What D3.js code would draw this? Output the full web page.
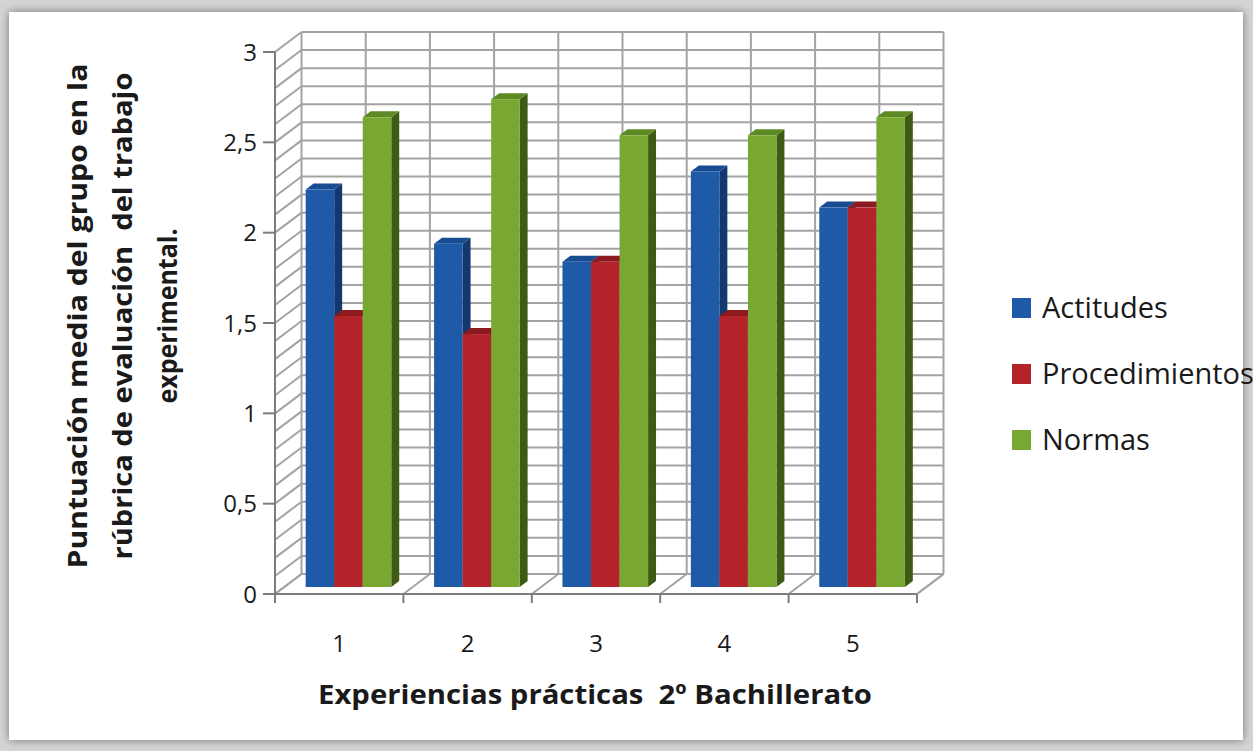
<!DOCTYPE html>
<html>
<head>
<meta charset="utf-8">
<script src="https://cdn.jsdelivr.net/npm/d3@7"></script>
<style>
  html, body { margin: 0; padding: 0; background: #cfcfcf; }
  svg { display: block; }
  text { font-family: "Open Sans", "Noto Sans", sans-serif; fill: #1a1a1a; white-space: pre; }
</style>
</head>
<body>
<svg id="chart" width="1253" height="751"></svg>
<script>
// Experiences (categories) and the three evaluated dimensions
const categories = ["1", "2", "3", "4", "5"];
const seriesNames = ["Actitudes", "Procedimientos", "Normas"];
const actitudes = [2.2, 1.9, 1.8, 2.3, 2.1];
const procedimientos = [1.5, 1.4, 1.8, 1.5, 2.1];
const normas = [2.6, 2.7, 2.5, 2.5, 2.6];
const yTicks = [0, 0.5, 1, 1.5, 2, 2.5, 3];
const yTitleLines = ["Puntuación media del grupo en la", "rúbrica de evaluación  del trabajo", "experimental."];
const xTitle = "Experiencias prácticas  2º Bachillerato";

const seriesValues = [actitudes, procedimientos, normas];
const palette = {
  front: ["#1f5aa8", "#b2232a", "#78a832"],
  side:  ["#12386f", "#6e1216", "#3e5a14"],
  top:   ["#174c92", "#8c1a1e", "#5e8a24"]
};

const svg = d3.select("#chart");

// Page panel with soft shadow
const defs = svg.append("defs");
const f = defs.append("filter").attr("id", "shadow").attr("x", "-5%").attr("y", "-5%").attr("width", "110%").attr("height", "110%");
f.append("feGaussianBlur").attr("in", "SourceAlpha").attr("stdDeviation", 5).attr("result", "b");
f.append("feFlood").attr("flood-color", "#000").attr("flood-opacity", 0.45);
f.append("feComposite").attr("in2", "b").attr("operator", "in");
const m = f.append("feMerge");
m.append("feMergeNode");
m.append("feMergeNode").attr("in", "SourceGraphic");

svg.append("rect").attr("x", 0).attr("y", 0).attr("width", 1253).attr("height", 751).attr("fill", "#d4d4d4");
svg.append("rect").attr("x", 9).attr("y", 12).attr("width", 1234).attr("height", 728)
  .attr("fill", "#ffffff").attr("filter", "url(#shadow)");

// 3D frame geometry: front plane and depth offset
const x0 = 275, x1 = 917;
const y = d3.scaleLinear().domain([0, 3]).range([594, 52]);
const depthX = 26.5, depthY = -20;
const px = (xv, z) => xv + z * depthX;
const py = (yv, z) => yv + z * depthY;

const xCat = d3.scaleBand().domain(categories).range([x0, x1]).padding(0);
const xSer = d3.scaleBand().domain(seriesNames).range([0, xCat.bandwidth()]).paddingInner(0).paddingOuter(0.75);

const gridColor = "#a3a3a3";
const grid = svg.append("g").attr("fill", "none").attr("stroke", gridColor).attr("stroke-width", 2);

// back wall
const minorTicks = d3.range(0, 31).map(i => i / 10);
grid.selectAll("line.h").data(minorTicks).join("line")
  .attr("x1", px(x0, 1)).attr("x2", px(x1, 1))
  .attr("y1", d => py(y(d), 1)).attr("y2", d => py(y(d), 1));
const halfCats = d3.range(0, 11).map(i => x0 + i * xCat.bandwidth() / 2);
grid.selectAll("line.v").data(halfCats).join("line")
  .attr("x1", d => px(d, 1)).attr("x2", d => px(d, 1))
  .attr("y1", py(y(0), 1)).attr("y2", py(y(3), 1));

// side wall hatching
grid.selectAll("line.s").data(minorTicks).join("line")
  .attr("x1", px(x0, 0)).attr("y1", d => y(d))
  .attr("x2", px(x0, 1)).attr("y2", d => py(y(d), 1));

// floor lines at category boundaries
const catEdges = d3.range(0, 6).map(i => x0 + i * xCat.bandwidth());
grid.selectAll("line.f").data(catEdges).join("line")
  .attr("x1", d => px(d, 0)).attr("y1", y(0))
  .attr("x2", d => px(d, 1)).attr("y2", py(y(0), 1));

// bars: front face z from zF to zB
const zF = 0.35, zB = 0.65;
const bars = svg.append("g");
categories.forEach((c, ci) => {
  seriesNames.forEach((s, si) => {
    const v = seriesValues[si][ci];
    const xl = xCat(c) + xSer(s), xr = xl + xSer.bandwidth();
    const yt = y(v), yb = y(0);
    const poly = pts => pts.map(p => p.join(",")).join(" ");
    // right side face
    bars.append("polygon").attr("fill", palette.side[si]).attr("points", poly([
      [px(xr, zF), py(yb, zF)], [px(xr, zB), py(yb, zB)], [px(xr, zB), py(yt, zB)], [px(xr, zF), py(yt, zF)]
    ]));
    // top face
    bars.append("polygon").attr("fill", palette.top[si]).attr("points", poly([
      [px(xl, zF), py(yt, zF)], [px(xr, zF), py(yt, zF)], [px(xr, zB), py(yt, zB)], [px(xl, zB), py(yt, zB)]
    ]));
    // front face
    bars.append("rect").attr("fill", palette.front[si])
      .attr("x", px(xl, zF)).attr("y", py(yt, zF))
      .attr("width", xr - xl).attr("height", yb - yt);
  });
});

// front axes
const axisColor = "#7d7d7d";
const ax = svg.append("g").attr("stroke", axisColor).attr("stroke-width", 2);
ax.append("line").attr("x1", x0).attr("x2", x0).attr("y1", y(3)).attr("y2", y(0) + 9);
ax.append("line").attr("x1", x0 - 12).attr("x2", x1).attr("y1", y(0)).attr("y2", y(0));
ax.selectAll("line.yt").data(yTicks).join("line")
  .attr("x1", x0 - 12).attr("x2", x0).attr("y1", d => y(d)).attr("y2", d => y(d));
ax.selectAll("line.xt").data(catEdges).join("line")
  .attr("x1", d => d).attr("x2", d => d).attr("y1", y(0)).attr("y2", y(0) + 9);
// floor right edge
ax.append("line").attr("x1", px(x1, 0)).attr("y1", y(0)).attr("x2", px(x1, 1)).attr("y2", py(y(0), 1)).attr("stroke", gridColor);

// tick labels
const fmt = d => String(d).replace(".", ",");
svg.append("g").selectAll("text").data(yTicks).join("text")
  .attr("x", 257).attr("y", d => y(d)).attr("dy", "0.36em")
  .attr("text-anchor", "end").attr("font-size", 24).text(fmt);
svg.append("g").selectAll("text").data(categories).join("text")
  .attr("x", d => xCat(d) + xCat.bandwidth() / 2).attr("y", 652)
  .attr("text-anchor", "middle").attr("font-size", 24).text(d => d);

// axis titles
svg.append("text").attr("x", 595).attr("y", 704).attr("text-anchor", "middle")
  .attr("font-size", 27).attr("font-weight", "bold")
  .attr("textLength", 554).attr("lengthAdjust", "spacingAndGlyphs").text(xTitle);
const titleLens = [505, 487, 175];
yTitleLines.forEach((t, i) => {
  svg.append("text").attr("transform", `translate(${87 + i * 45},316) rotate(-90)`)
    .attr("text-anchor", "middle").attr("font-size", 27).attr("font-weight", "bold")
    .attr("textLength", titleLens[i]).attr("lengthAdjust", "spacingAndGlyphs").text(t);
});

// legend
const legend = svg.append("g");
seriesNames.forEach((s, i) => {
  const ly = 308 + i * 66;
  legend.append("rect").attr("x", 1012).attr("y", ly - 10).attr("width", 19).attr("height", 20)
    .attr("fill", palette.front[i]);
  legend.append("text").attr("x", 1042).attr("y", ly).attr("dy", "0.36em")
    .attr("font-size", 29).text(s);
});
</script>
</body>
</html>
